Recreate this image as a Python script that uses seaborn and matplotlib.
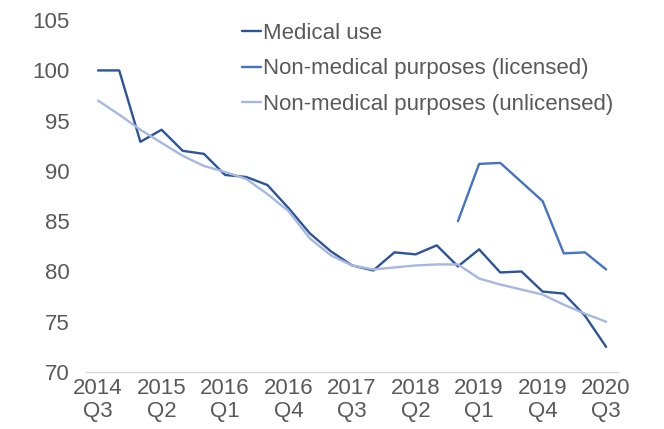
import numpy as np
import pandas as pd
import matplotlib.pyplot as plt
import seaborn as sns

# Quarterly index, 2014 Q3 to 2020 Q3
quarters = ['2014\nQ3', '2014\nQ4', '2015\nQ1', '2015\nQ2', '2015\nQ3', '2015\nQ4',
            '2016\nQ1', '2016\nQ2', '2016\nQ3', '2016\nQ4', '2017\nQ1', '2017\nQ2',
            '2017\nQ3', '2017\nQ4', '2018\nQ1', '2018\nQ2', '2018\nQ3', '2018\nQ4',
            '2019\nQ1', '2019\nQ2', '2019\nQ3', '2019\nQ4', '2020\nQ1', '2020\nQ2',
            '2020\nQ3']

medical = [100.0, 100.0, 92.9, 94.1, 92.0, 91.7, 89.6, 89.4, 88.6, 86.3, 83.8, 82.0,
           80.6, 80.1, 81.9, 81.7, 82.6, 80.5, 82.2, 79.9, 80.0, 78.0, 77.8, 75.6, 72.5]
licensed = [np.nan] * 17 + [85.0, 90.7, 90.8, 88.9, 87.0, 81.8, 81.9, 80.2]
unlicensed = [97.0, 95.6, 94.1, 92.8, 91.5, 90.5, 89.9, 89.2, 87.7, 86.0, 83.3, 81.6,
              80.6, 80.2, 80.4, 80.6, 80.7, 80.7, 79.3, 78.7, 78.2, 77.7, 76.7, 75.8, 75.0]

names = ['Medical use', 'Non-medical purposes (licensed)', 'Non-medical purposes (unlicensed)']
colors = ['#2C5499', '#4472C4', '#A6B7E0']

df = pd.DataFrame({'q': np.arange(len(quarters)), names[0]: medical,
                   names[1]: licensed, names[2]: unlicensed})
long = df.melt(id_vars='q', var_name='series', value_name='value').dropna()

sns.set_style('white')
plt.rcParams['font.family'] = ['Liberation Sans', 'DejaVu Sans']

fig, ax = plt.subplots(figsize=(6.64, 4.29), dpi=100)
fig.subplots_adjust(left=0.1295, right=0.931, bottom=0.1329, top=0.953)

sns.lineplot(data=long, x='q', y='value', hue='series', hue_order=names,
             palette=colors, linewidth=1.7, ax=ax)

ax.set_xlim(-0.57, 24.57)
ax.set_ylim(70, 105)
ax.set_yticks(range(70, 106, 5))
ax.set_xticks(range(0, 25, 3))
ax.set_xticklabels(quarters[::3], linespacing=1.15)
ax.set_xlabel('')
ax.set_ylabel('')
ax.tick_params(axis='both', labelsize=16, labelcolor='#595959', length=0)
ax.tick_params(axis='x', pad=4)
ax.tick_params(axis='y', pad=12)

for side in ['top', 'right', 'left']:
    ax.spines[side].set_visible(False)
ax.spines['bottom'].set_color('#D9D9D9')
ax.spines['bottom'].set_linewidth(1)

leg = ax.legend(loc='upper left', bbox_to_anchor=(0.364, 0.947), bbox_transform=fig.transFigure,
                frameon=False, fontsize=16, handlelength=0.85, handletextpad=0.1,
                labelspacing=0.66, borderpad=0, borderaxespad=0)
for t in leg.get_texts():
    t.set_color('#595959')

fig.savefig('out.png', dpi=100)
